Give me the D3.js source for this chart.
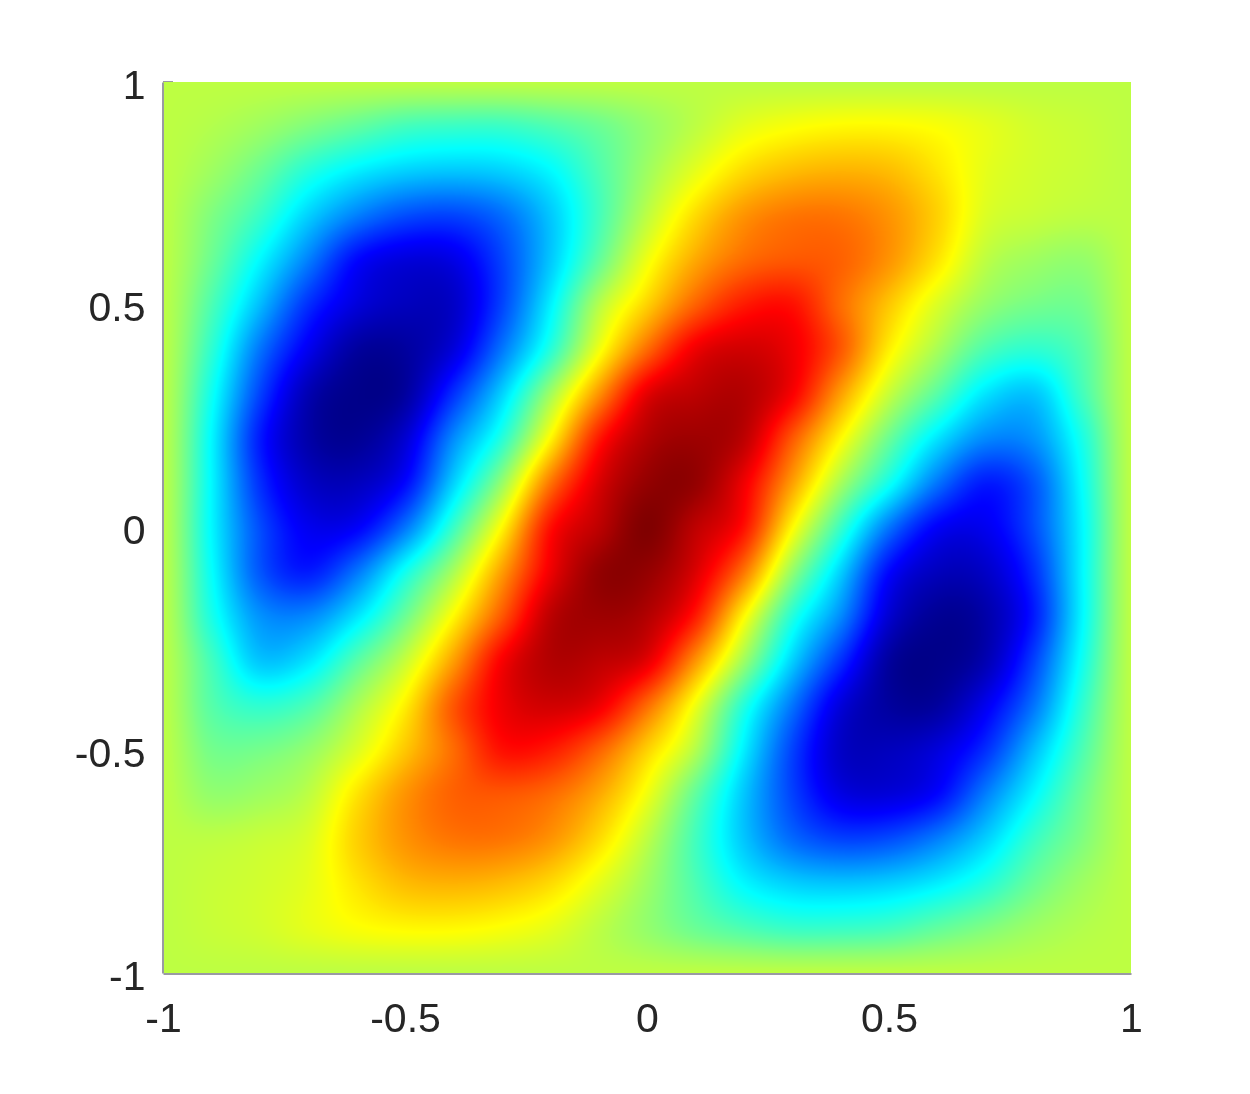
<!DOCTYPE html>
<html>

<head>
    <script src="https://d3js.org/d3.v7.min.js"></script>
    <title>Heatmap</title>
    <style>
        body {
            margin: 0;
            background-color: #ffffff;
        }

        #wrap {
            position: relative;
            width: 1250px;
            height: 1094px;
        }

        #heat {
            position: absolute;
            left: 163px;
            top: 82px;
        }

        #chart {
            position: absolute;
            left: 0;
            top: 0;
        }
    </style>
</head>

<body>
    <div id="wrap">
        <canvas id="heat"></canvas>
        <svg id="chart" width="1250" height="1094"></svg>
    </div>

    <script>
        const xTicks = [-1, -0.5, 0, 0.5, 1];
        const yTicks = [-1, -0.5, 0, 0.5, 1];
        const tickLabels = ["-1", "-0.5", "0", "0.5", "1"];

        // grid node positions, rows run from y = 1 at the top down to y = -1
        const gridX = [-1, -0.9, -0.8, -0.7, -0.6, -0.5, -0.4, -0.3, -0.2, -0.1, 0, 0.1, 0.2, 0.3, 0.4, 0.5, 0.6, 0.7, 0.8, 0.9, 1];
        const gridY = [1, 0.9, 0.8, 0.7, 0.6, 0.5, 0.4, 0.3, 0.2, 0.1, 0, -0.1, -0.2, -0.3, -0.4, -0.5, -0.6, -0.7, -0.8, -0.9, -1];

        // colour position, 0 = darkest blue, 100 = darkest red
        const gridValues = [
            [56, 56, 56, 56, 56, 56, 56, 56, 56, 56, 56, 56, 56, 56, 56, 56, 56, 56, 56, 56, 56],
            [56, 55, 53, 50, 47, 44, 43, 43, 45, 48, 52, 56, 60, 62, 63, 63, 62, 60, 58, 57, 56],
            [56, 53, 48, 41, 36, 33, 32, 33, 37, 45, 53, 60, 66, 69, 70, 69, 65, 60, 58, 57, 56],
            [56, 50, 43, 33, 25, 20, 19, 23, 32, 44, 56, 66, 73, 76, 76, 73, 67, 59, 57, 56, 56],
            [56, 48, 37, 25, 13, 9, 10, 19, 32, 47, 61, 71, 77, 79, 78, 73, 65, 56, 53, 52, 56],
            [56, 45, 31, 17, 9, 6, 7, 19, 36, 55, 67, 78, 85, 86, 77, 68, 59, 52, 49, 49, 56],
            [56, 42, 24, 11, 3, 3, 9, 24, 41, 61, 77, 89, 92, 89, 79, 64, 54, 45, 42, 46, 56],
            [56, 39, 19, 5, 1, 3, 17, 33, 53, 73, 90, 94, 95, 88, 72, 57, 46, 35, 32, 44, 56],
            [56, 37, 15, 4, 2, 8, 26, 41, 63, 85, 95, 97, 94, 79, 63, 48, 35, 26, 27, 40, 56],
            [56, 37, 17, 7, 6, 13, 33, 52, 76, 91, 98, 98, 89, 72, 54, 39, 24, 15, 21, 38, 56],
            [56, 37, 20, 11, 12, 24, 43, 63, 86, 94, 100, 94, 86, 63, 43, 24, 12, 11, 20, 37, 56],
            [56, 38, 21, 15, 24, 39, 54, 72, 89, 98, 98, 91, 76, 52, 33, 13, 6, 7, 17, 37, 56],
            [56, 40, 27, 26, 35, 48, 63, 79, 94, 97, 95, 85, 63, 41, 26, 8, 2, 4, 15, 37, 56],
            [56, 44, 32, 35, 46, 57, 72, 88, 95, 94, 90, 73, 53, 33, 17, 3, 1, 5, 19, 39, 56],
            [56, 46, 42, 45, 54, 64, 79, 89, 92, 89, 77, 61, 41, 24, 9, 3, 3, 11, 24, 42, 56],
            [56, 49, 49, 52, 59, 68, 77, 86, 85, 78, 67, 55, 36, 19, 7, 6, 9, 17, 31, 45, 56],
            [56, 52, 53, 56, 65, 73, 78, 79, 77, 71, 61, 47, 32, 19, 10, 9, 13, 25, 37, 48, 56],
            [56, 56, 57, 59, 67, 73, 76, 76, 73, 66, 56, 44, 32, 23, 19, 20, 25, 33, 43, 50, 56],
            [56, 57, 58, 60, 65, 69, 70, 69, 66, 60, 53, 45, 37, 33, 32, 33, 36, 41, 48, 53, 56],
            [56, 57, 58, 60, 62, 63, 63, 62, 60, 56, 52, 48, 45, 43, 43, 44, 47, 50, 53, 55, 56],
            [56, 56, 56, 56, 56, 56, 56, 56, 56, 56, 56, 56, 56, 56, 56, 56, 56, 56, 56, 56, 56]
        ];

        const jetStops = [0, 12.5, 37.5, 62.5, 87.5, 100];
        const jetColors = ["#000080", "#0000ff", "#00ffff", "#ffff00", "#ff0000", "#800000"];

        var left = 163, right = 1131, top_ = 82, bottom = 973;
        var width = right - left;
        var height = bottom - top_;

        var xScale = d3.scaleLinear().domain([-1, 1]).range([left, right]);
        var yScale = d3.scaleLinear().domain([-1, 1]).range([bottom, top_]);
        var colorScale = d3.scaleLinear().domain(jetStops).range(jetColors);

        // position inside the grid, in node units
        var colIndex = d3.scaleLinear().domain(d3.extent(gridX)).range([0, gridX.length - 1]);
        var rowIndex = d3.scaleLinear().domain([gridY[0], gridY[gridY.length - 1]]).range([0, gridY.length - 1]);

        var lut = d3.range(1001).map(function (i) {
            return d3.rgb(colorScale(i / 10));
        });

        function cubicWeights(t) {
            return [
                -0.5 * t * t * t + t * t - 0.5 * t,
                1.5 * t * t * t - 2.5 * t * t + 1,
                -1.5 * t * t * t + 2 * t * t + 0.5 * t,
                0.5 * t * t * t - 0.5 * t * t
            ];
        }

        function clampIndex(i, n) {
            return Math.max(0, Math.min(n - 1, i));
        }

        // smooth the read values for display, one canvas pixel at a time
        function valueAt(cx, cy) {
            var c0 = Math.min(Math.floor(cx), gridX.length - 2);
            var r0 = Math.min(Math.floor(cy), gridY.length - 2);
            var wx = cubicWeights(cx - c0);
            var wy = cubicWeights(cy - r0);
            var sum = 0;
            for (var j = 0; j < 4; j++) {
                var row = gridValues[clampIndex(r0 - 1 + j, gridY.length)];
                for (var i = 0; i < 4; i++) {
                    sum += wy[j] * wx[i] * row[clampIndex(c0 - 1 + i, gridX.length)];
                }
            }
            return sum;
        }

        var canvas = document.getElementById("heat");
        canvas.width = width;
        canvas.height = height;
        var ctx = canvas.getContext("2d");
        var img = ctx.createImageData(width, height);
        for (var py = 0; py < height; py++) {
            var cy = rowIndex(yScale.invert(top_ + py + 0.5));
            for (var px = 0; px < width; px++) {
                var cx = colIndex(xScale.invert(left + px + 0.5));
                var v = Math.max(0, Math.min(100, valueAt(cx, cy)));
                var c = lut[Math.round(v * 10)];
                var k = (py * width + px) * 4;
                img.data[k] = c.r;
                img.data[k + 1] = c.g;
                img.data[k + 2] = c.b;
                img.data[k + 3] = 255;
            }
        }
        ctx.putImageData(img, 0, 0);

        var svg = d3.select("#chart");

        var xAxis = d3.axisBottom(xScale)
            .tickValues(xTicks)
            .tickFormat(function (d, i) { return tickLabels[i]; })
            .tickSize(0)
            .tickPadding(29);

        var yAxis = d3.axisLeft(yScale)
            .tickValues(yTicks)
            .tickFormat(function (d, i) { return tickLabels[i]; })
            .tickSize(0)
            .tickPadding(17);

        var gx = svg.append("g")
            .attr("transform", "translate(0," + (bottom + 0.5) + ")")
            .call(xAxis);

        var gy = svg.append("g")
            .attr("transform", "translate(" + (left - 0.5) + ",0)")
            .call(yAxis);

        svg.selectAll("g path.domain")
            .style("stroke", "#9a9aa2")
            .style("stroke-width", "2px");

        svg.selectAll("g text")
            .style("font-family", "'Liberation Sans', sans-serif")
            .style("font-size", "41px")
            .style("fill", "#262626");

        // labels sit a little under their ticks in the original
        gy.selectAll("text").attr("transform", "translate(0,3)");

        // only the corner ticks are not hidden under the image
        svg.append("line")
            .attr("x1", left).attr("x2", left + 10)
            .attr("y1", top_ - 0.5).attr("y2", top_ - 0.5)
            .style("stroke", "#9a9aa2");
    </script>
</body>

</html>
